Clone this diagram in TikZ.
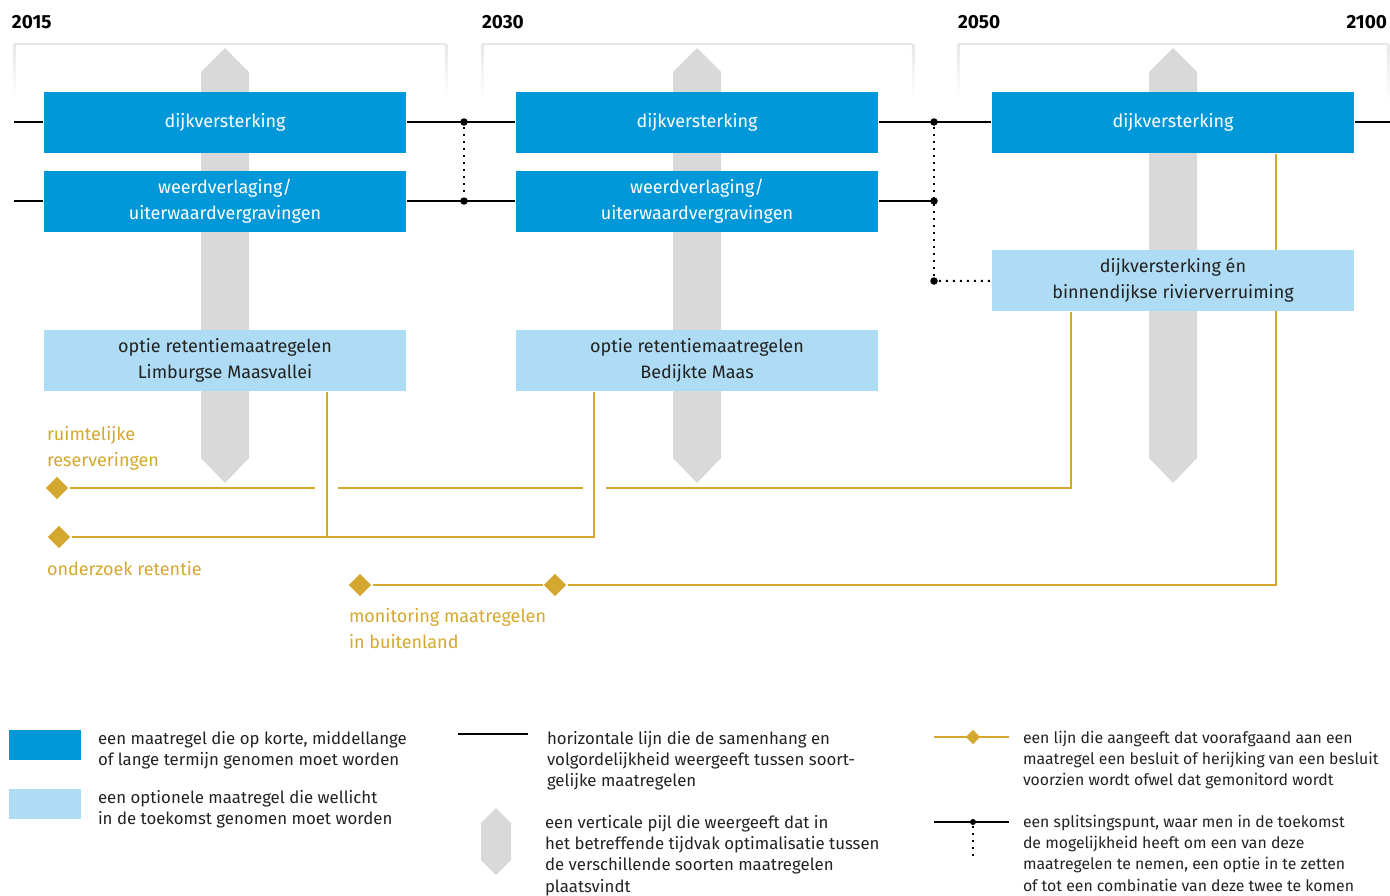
\documentclass[tikz,border=0pt]{standalone}
\usepackage{fontspec}
\setmainfont{Fira Sans}
\usetikzlibrary{shapes.geometric, backgrounds}
\definecolor{blauw}{RGB}{0,152,216}
\definecolor{lichtblauw}{RGB}{174,220,244}
\definecolor{goud}{RGB}{212,167,46}
\definecolor{pijlgrijs}{RGB}{217,217,217}
\definecolor{kadergrijs}{RGB}{232,232,232}
\definecolor{tekst}{RGB}{34,34,34}
\begin{document}
\begin{tikzpicture}[x=1pt, y=-1pt, line width=2pt,
    mbox/.style={fill=blauw, text=white, minimum width=362pt, minimum height=61pt,
      inner sep=0pt, align=center, font=\fontsize{18}{26}\selectfont},
    obox/.style={mbox, fill=lichtblauw, text=tekst},
    year/.style={font=\fontsize{19}{20}\selectfont\bfseries, text=black, inner sep=0pt},
    splitdot/.style={circle, fill=black, minimum size=7.5pt, inner sep=0pt},
    stip/.style={line width=2pt, dash pattern=on 2pt off 5pt},
    goudlijn/.style={goud, line width=2.5pt},
    ruit/.style={diamond, fill=goud, minimum width=23pt, minimum height=23pt, inner sep=0pt},
    goudtekst/.style={text=goud, anchor=north west, align=left, inner sep=0pt,
      font=\fontsize{18}{26}\selectfont},
    legtekst/.style={text=tekst, anchor=north west, align=left, inner sep=0pt,
      font=\fontsize{16.8}{21.3}\selectfont},
    legsmal/.style={legtekst, font=\fontsize{15.8}{21.3}\selectfont}]
  \useasboundingbox (0,0) rectangle (1390,895);

  % periods
  \node[year, anchor=base west] (j2015) at (11,28) {2015};
  \node[year, anchor=base west] (j2030) at (481,28) {2030};
  \node[year, anchor=base west] (j2050) at (957,28) {2050};
  \node[year, anchor=base east] (j2100) at (1388,28) {2100};
  \foreach \a/\b in {14/446, 482/913, 958/1388} {
    \draw[kadergrijs, line width=2.5pt] (\a,44) -- (\b,44);
    \shade[top color=kadergrijs, bottom color=white] (\a-1.25,44) rectangle (\a+1.25,100);
    \shade[top color=kadergrijs, bottom color=white] (\b-1.25,44) rectangle (\b+1.25,100);
  }

  % measures
  \node[mbox] (dijk1) at (225,122) {dijkversterking};
  \node[mbox] (weerd1) at (225,201) {weerdverlaging/\\uiterwaardvergravingen};
  \node[obox] (ret1) at (225,360.5) {optie retentiemaatregelen\\Limburgse Maasvallei};
  \node[mbox] (dijk2) at (697,122) {dijkversterking};
  \node[mbox] (weerd2) at (697,201) {weerdverlaging/\\uiterwaardvergravingen};
  \node[obox] (ret2) at (697,360.5) {optie retentiemaatregelen\\Bedijkte Maas};
  \node[mbox] (dijk3) at (1173,122) {dijkversterking};
  \node[obox] (rivier3) at (1173,280.5) {dijkversterking én\\binnendijkse rivierverruiming};

  % sequence lines and split points
  \coordinate (in1) at (14,122);
  \coordinate (in2) at (14,201);
  \coordinate (uit1) at (1390,122);
  \node[splitdot] (s1) at (464,122) {};
  \node[splitdot] (s2) at (464,201) {};
  \node[splitdot] (s3) at (934,122) {};
  \node[splitdot] (s4) at (934,201) {};
  \node[splitdot] (s5) at (934,281) {};
  \draw (in1) -- (dijk1);
  \draw (dijk1) -- (dijk2);
  \draw (dijk2) -- (dijk3);
  \draw (dijk3) -- (uit1);
  \draw (in2) -- (weerd1);
  \draw (weerd1) -- (weerd2);
  \draw (weerd2.east) -- (s4.center);
  \draw[stip] (s1) -- (s2);
  \draw[stip] (s3) -- (s5);
  \draw[stip] (s5) -- (rivier3);

  % decisions
  \node[ruit] (r1) at (57,488) {};
  \node[ruit] (r2) at (59,537) {};
  \node[ruit] (r3) at (360,585) {};
  \node[ruit] (r4) at (555,585) {};
  \coordinate (g1) at (315,488);
  \coordinate (g2) at (338,488);
  \coordinate (g3) at (583,488);
  \coordinate (g4) at (606,488);
  \coordinate (g5) at (1071,488);
  \coordinate (k1) at (327,537);
  \coordinate (k2) at (594,537);
  \coordinate (m1) at (1276,585);
  \begin{scope}[on background layer]
    % optimisation arrows
    \foreach \c in {225, 697, 1173}
      \fill[pijlgrijs] (\c-24,72) -- (\c,48) -- (\c+24,72) -- (\c+24,458)
        -- (\c,483) -- (\c-24,458) -- cycle;
    \draw[goudlijn] (r1) -- (g1);
    \draw[goudlijn] (g2) -- (g3);
    \draw[goudlijn] (g4) -- (g5) -- (g5 |- rivier3.south);
    \draw[goudlijn] (r2) -- (k2) -- (k2 |- ret2.south);
    \draw[goudlijn] (k1) -- (k1 |- ret1.south);
    \draw[goudlijn] (r3) -- (r4);
    \draw[goudlijn] (r4) -- (m1) -- (m1 |- dijk3.south);
  \end{scope}
  \node[goudtekst] (t1) at (46,425) {ruimtelijke\\reserveringen};
  \node[goudtekst] (t2) at (46,560) {onderzoek retentie};
  \node[goudtekst] (t3) at (348,607) {monitoring maatregelen\\in buitenland};

  % legend
  \fill[blauw] (9,730) rectangle (81,760);
  \fill[lichtblauw] (9,789) rectangle (81,819);
  \node[legtekst] (l1) at (97,730) {een maatregel die op korte, middellange\\of lange termijn genomen moet worden};
  \node[legtekst] (l2) at (97,789) {een optionele maatregel die wellicht\\in de toekomst genomen moet worden};
  \draw[black] (458,734) -- (528,734);
  \node[legtekst] (l3) at (546,730) {horizontale lijn die de samenhang en\\volgordelijkheid weergeeft tussen soort-\\gelijke maatregelen};
  \fill[pijlgrijs] (481,823) -- (496,808) -- (511,823) -- (511,860) -- (496,875) -- (481,860) -- cycle;
  \node[legtekst] (l4) at (544,814) {een verticale pijl die weergeeft dat in\\het betreffende tijdvak optimalisatie tussen\\de verschillende soorten maatregelen\\plaatsvindt};
  \draw[goud, line width=2pt] (934,737) -- (1009,737);
  \node[diamond, fill=goud, minimum width=15pt, minimum height=15pt, inner sep=0pt] (lr) at (973,737) {};
  \node[legsmal] (l5) at (1022,730) {een lijn die aangeeft dat voorafgaand aan een\\maatregel een besluit of herijking van een besluit\\voorzien wordt ofwel dat gemonitord wordt};
  \draw (934,822) -- (1009,822);
  \node[circle, fill=black, minimum size=6pt, inner sep=0pt] (ls) at (973,822) {};
  \draw[stip] (ls) -- (973,858);
  \node[legsmal] (l6) at (1022,814) {een splitsingspunt, waar men in de toekomst\\de mogelijkheid heeft om een van deze\\maatregelen te nemen, een optie in te zetten\\of tot een combinatie van deze twee te komen};
\end{tikzpicture}
\end{document}
